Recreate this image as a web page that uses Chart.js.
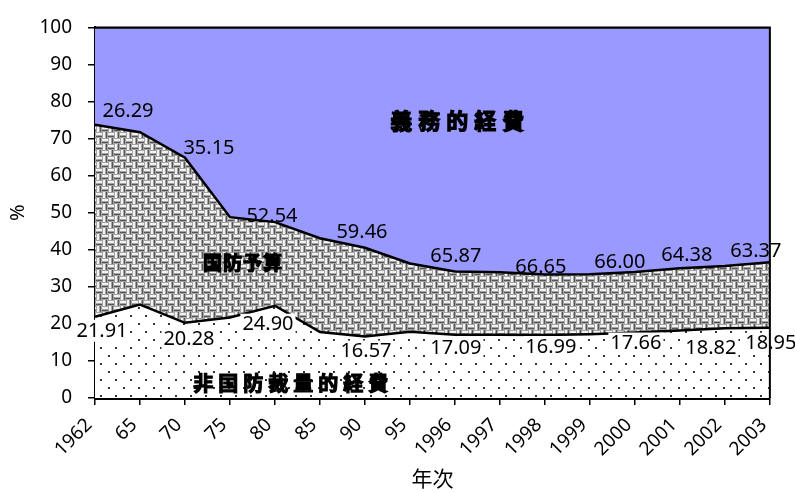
<!DOCTYPE html>
<html>
<head>
<meta charset="utf-8">
<script src="https://cdn.jsdelivr.net/npm/chart.js@4.4.1/dist/chart.umd.min.js"></script>
<style>
  html, body { margin: 0; padding: 0; background: #fff; }
</style>
</head>
<body>
<canvas id="chart" width="795" height="493"></canvas>
<script>
const years = ['1962', '65', '70', '75', '80', '85', '90', '95', '1996', '1997', '1998', '1999', '2000', '2001', '2002', '2003'];
const nonDefense = [21.91, 25.2, 20.28, 21.7, 24.90, 17.8, 16.57, 17.9, 17.09, 17.1, 16.99, 17.2, 17.66, 18.2, 18.82, 18.95];
const defense = [51.80, 46.5, 44.57, 27.1, 22.56, 25.3, 23.97, 18.4, 17.04, 16.8, 16.36, 16.2, 16.34, 16.8, 16.80, 17.68];
const mandatory = [26.29, 28.3, 35.15, 51.2, 52.54, 56.9, 59.46, 63.7, 65.87, 66.1, 66.65, 66.6, 66.00, 65.0, 64.38, 63.37];
const yTicks = [0, 10, 20, 30, 40, 50, 60, 70, 80, 90, 100];
const labeledIdx = [0, 2, 4, 6, 8, 10, 12, 14, 15];

// label nudges (px) so the numbers sit where the original put them
const topNudge = { 0: [33, -2], 2: [24, 3], 4: [-3, 6], 6: [-3, -3], 8: [1, -3], 10: [-4, 5], 12: [-15, 2], 14: [-38, 1], 15: [-14, 1] };
const bottomNudge = { 0: [7, -1], 2: [4, 1], 4: [-7, 4], 6: [1, 0], 8: [1, -1], 10: [6, -3], 12: [1, -4], 14: [-14, 5], 15: [1, 1] };

function weavePattern(ctx) {
    const c = document.createElement('canvas');
    c.width = 12; c.height = 12;
    const g = c.getContext('2d');
    g.fillStyle = '#a4a4a4';
    g.fillRect(0, 0, 12, 12);
    g.fillStyle = '#f2f2f2';
    g.fillRect(0, 1, 6, 2);
    g.fillRect(7, 0, 2, 6);
    g.fillRect(1, 6, 2, 6);
    g.fillRect(6, 7, 6, 2);
    g.fillStyle = '#555555';
    g.fillRect(0, 4, 6, 1);
    g.fillRect(10, 0, 1, 6);
    g.fillRect(4, 6, 1, 6);
    g.fillRect(6, 10, 6, 1);
    return ctx.createPattern(c, 'repeat');
}

function dotPattern(ctx) {
    const c = document.createElement('canvas');
    c.width = 15; c.height = 16;
    const g = c.getContext('2d');
    g.fillStyle = '#ffffff';
    g.fillRect(0, 0, 15, 16);
    g.fillStyle = '#333333';
    g.fillRect(3, 3, 2, 2);
    g.fillRect(10, 11, 2, 2);
    return ctx.createPattern(c, 'repeat');
}

// draw text one glyph at a time with a fixed pitch
function spacedText(c, text, cx, cy, pitch) {
    const chars = Array.from(text);
    let px = cx - pitch * chars.length / 2 + pitch / 2;
    chars.forEach(ch => {
        c.fillText(ch, px, cy);
        c.strokeText(ch, px, cy);
        px += pitch;
    });
}

const canvas = document.getElementById('chart');
const ctx = canvas.getContext('2d');

const labelPlugin = {
    id: 'labels',
    afterDatasetsDraw(chart) {
        const c = chart.ctx;
        const x = chart.scales.x, y = chart.scales.y;
        c.save();
        c.textAlign = 'center';
        c.textBaseline = 'middle';
        c.font = '20px "Noto Sans"';
        labeledIdx.forEach(i => {
            const px = x.getPixelForValue(i);
            // mandatory share, written above the top boundary
            const topY = y.getPixelForValue(nonDefense[i] + defense[i]);
            const tn = topNudge[i] || [0, 0];
            c.fillStyle = '#000';
            c.fillText(mandatory[i].toFixed(2), px + tn[0], topY - 12 + tn[1]);
            // non-defense share, white box under the lower boundary
            const botY = y.getPixelForValue(nonDefense[i]);
            const bn = bottomNudge[i] || [0, 0];
            const txt = nonDefense[i].toFixed(2);
            const w = c.measureText(txt).width + 4;
            const cx = px + bn[0], cy = botY + 15 + bn[1];
            c.fillStyle = '#fff';
            c.fillRect(cx - w / 2, cy - 11, w, 22);
            c.fillStyle = '#000';
            c.fillText(txt, cx, cy);
        });

        // series names inside the areas: text, x index, y value, font size, pitch
        const names = [
            ['義務的経費', 8.05, 74.8, 22, 28],
            ['国防予算', 3.28, 36.5, 19, 20],
            ['非国防裁量的経費', 4.35, 4.0, 20, 25]
        ];
        names.forEach(([t, xi, yv, size, pitch]) => {
            c.font = 'bold ' + size + 'px "Noto Sans CJK JP"';
            c.lineWidth = 1.2;
            c.strokeStyle = '#000';
            c.fillStyle = '#000';
            spacedText(c, t, x.getPixelForValue(xi), y.getPixelForValue(yv), pitch);
        });
        c.restore();
    },
    afterDraw(chart) {
        const a = chart.chartArea;
        const c = chart.ctx;
        c.save();
        c.strokeStyle = '#000';
        c.lineWidth = 2;
        c.beginPath();
        c.moveTo(a.left, a.top);
        c.lineTo(a.right, a.top);
        c.lineTo(a.right, a.bottom);
        c.stroke();
        c.restore();
    }
};

new Chart(canvas, {
    type: 'line',
    data: {
        labels: years,
        datasets: [
            {
                label: '非国防裁量的経費',
                data: nonDefense,
                fill: 'origin',
                backgroundColor: dotPattern(ctx),
                borderColor: '#000',
                borderWidth: 2.5,
                pointRadius: 0,
                tension: 0
            },
            {
                label: '国防予算',
                data: defense,
                fill: '-1',
                backgroundColor: weavePattern(ctx),
                borderColor: '#000',
                borderWidth: 2.5,
                pointRadius: 0,
                tension: 0
            },
            {
                label: '義務的経費',
                data: mandatory,
                fill: '-1',
                backgroundColor: '#9999ff',
                borderColor: '#000',
                borderWidth: 2,
                pointRadius: 0,
                tension: 0
            }
        ]
    },
    options: {
        responsive: false,
        devicePixelRatio: 1,
        animation: false,
        layout: { padding: { top: 20, right: 25, left: 0, bottom: 0 } },
        plugins: {
            legend: { display: false },
            tooltip: { enabled: false }
        },
        scales: {
            x: {
                offset: false,
                afterFit: s => { s.height = 95; },
                grid: { drawOnChartArea: false, drawTicks: true, tickLength: 7, color: '#000', lineWidth: 1.5, offset: false },
                border: { display: true, color: '#000', width: 3 },
                ticks: {
                    color: '#000',
                    font: { family: 'Noto Sans', size: 19 },
                    maxRotation: 45,
                    minRotation: 45,
                    padding: 9,
                    labelOffset: -6,
                    autoSkip: false
                },
                title: {
                    display: true,
                    text: '年次',
                    color: '#000',
                    font: { family: 'Noto Sans CJK JP', size: 21 },
                    padding: { top: 0, bottom: 2 }
                }
            },
            y: {
                stacked: true,
                min: 0,
                max: 100,
                afterFit: s => { s.width = 95; },
                afterBuildTicks: s => { s.ticks = yTicks.map(v => ({ value: v })); },
                grid: { drawOnChartArea: false, drawTicks: true, tickLength: 7, color: '#000', lineWidth: 1.5 },
                border: { display: true, color: '#000', width: 2 },
                ticks: {
                    color: '#000',
                    font: { family: 'Noto Sans', size: 19 },
                    padding: 16
                },
                title: {
                    display: true,
                    text: '%',
                    color: '#000',
                    font: { family: 'Noto Sans', size: 20 },
                    padding: { top: 6, bottom: 6 }
                }
            }
        }
    },
    plugins: [labelPlugin]
});
</script>
</body>
</html>
